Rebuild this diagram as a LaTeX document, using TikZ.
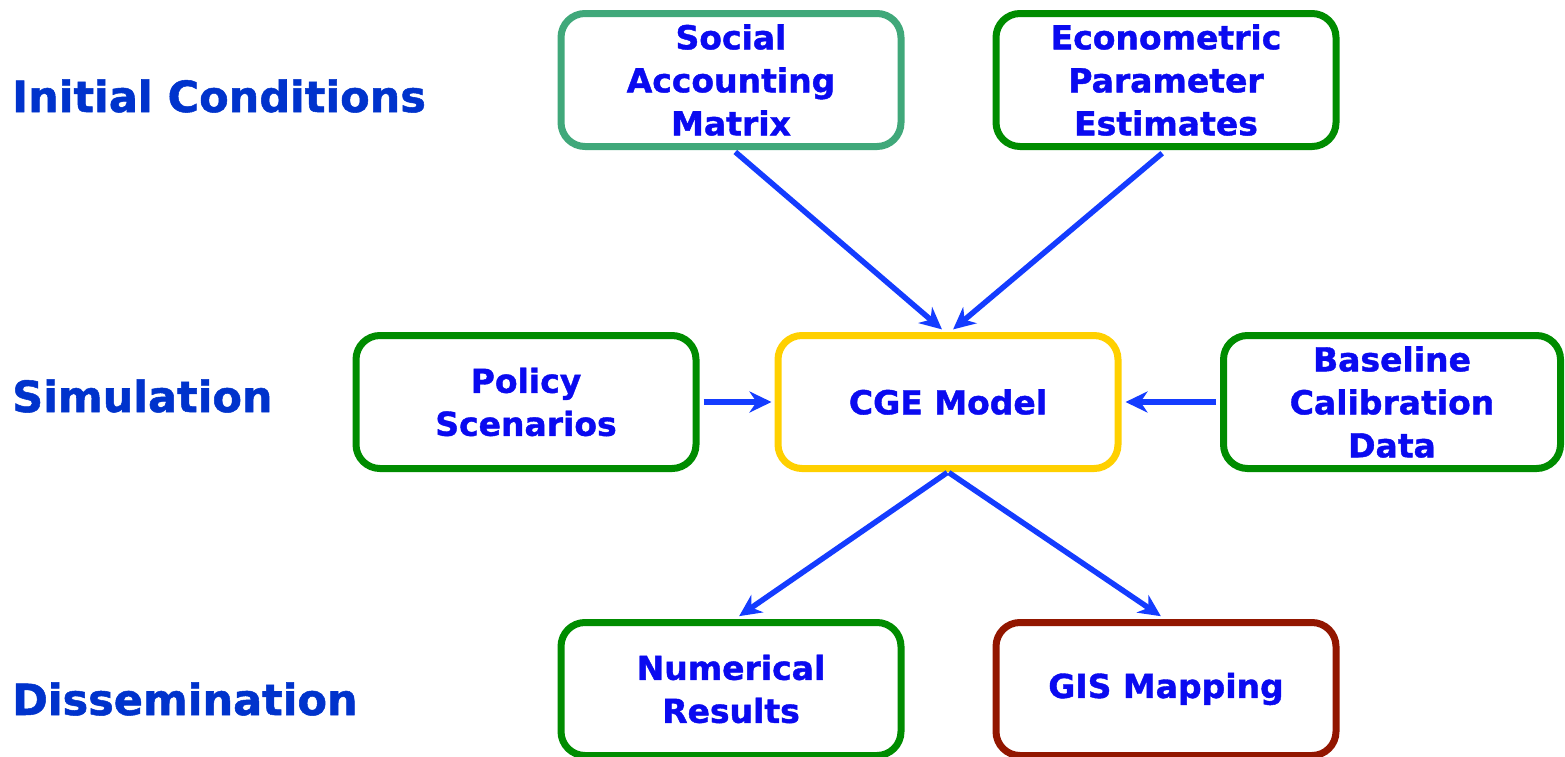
\documentclass[tikz,border=0pt]{standalone}
\usepackage{fontspec}
\setmainfont{DejaVu Sans}[BoldFeatures={FakeBold=1.2}]
\usetikzlibrary{arrows.meta}
\definecolor{boxtext}{RGB}{10,10,240}
\definecolor{rowtext}{RGB}{0,51,204}
\definecolor{flowblue}{RGB}{20,60,255}
\definecolor{samgreen}{RGB}{64,168,122}
\definecolor{boxgreen}{RGB}{0,140,0}
\definecolor{cgeyellow}{RGB}{255,208,0}
\definecolor{gisred}{RGB}{146,22,0}
\tikzset{
	stagebox/.style={draw, fill=white, line width=7pt, rounded corners=24pt, minimum width=340pt, minimum height=133pt, align=center, text=boxtext, font=\fontsize{33}{43}\selectfont\bfseries},
	rowlabel/.style={anchor=base west, text=rowtext, inner sep=0pt, font=\fontsize{43}{50}\selectfont\bfseries},
	flow/.style={draw=flowblue, line width=5.5pt, -{Stealth[length=22pt,width=21pt,inset=7pt]}}
}

\begin{document}
\begin{tikzpicture}[x=1pt, y=-1pt]
			%%%%% START %%%%%
			
			\useasboundingbox (0, 0) rectangle (1565, 756);
			
			\node[rowlabel] (initial) at (12, 112) {Initial Conditions};
			\node[rowlabel] (simulation) at (12, 412) {Simulation};
			\node[rowlabel] (dissemination) at (12, 715) {Dissemination};
			
			\node[stagebox, draw=samgreen] (sam) at (731, 80) {Social\\Accounting\\Matrix};
			\node[stagebox, draw=boxgreen] (param) at (1166, 80) {Econometric\\Parameter\\Estimates};
			
			\node[stagebox, draw=boxgreen] (policy) at (526, 402) {Policy\\Scenarios};
			\node[stagebox, draw=cgeyellow] (cge) at (948, 402) {CGE Model};
			\node[stagebox, draw=boxgreen, minimum width=337pt] (baseline) at (1392, 402) {Baseline\\Calibration\\Data};
			
			\node[stagebox, draw=boxgreen] (numeric) at (731, 689) {Numerical\\Results};
			\node[stagebox, draw=gisred] (gis) at (1166, 689) {GIS Mapping};
			
			\draw[flow, shorten <=3pt, shorten >=4pt] ([xshift=2pt]sam.south) -- ([xshift=-3pt]cge.north);
			\draw[flow, shorten <=5pt, shorten >=4pt] (param.south) -- ([xshift=2pt]cge.north);
			\draw[flow, shorten <=4pt, shorten >=3pt] (policy.east) -- (cge.west);
			\draw[flow, shorten <=4pt, shorten >=4pt] (baseline.west) -- (cge.east);
			\draw[flow, shorten <=1pt, shorten >=5pt] (cge.south) -- ([xshift=4pt]numeric.north);
			\draw[flow, shorten <=1pt, shorten >=5pt] (cge.south) -- ([xshift=-1pt]gis.north);
			
			%%%%% END %%%%%
\end{tikzpicture}
\end{document}
